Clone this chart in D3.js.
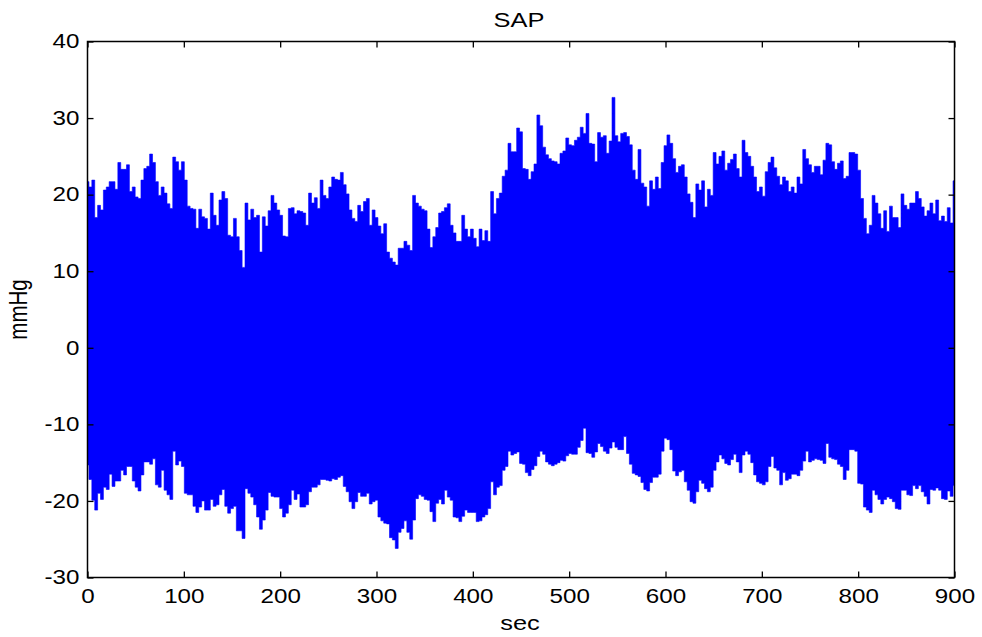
<!DOCTYPE html>
<html>
<head>
<meta charset="utf-8">
<script src="https://cdn.jsdelivr.net/npm/d3@7"></script>
<style>
  html, body { margin: 0; padding: 0; background: #fff; }
  svg { display: block; }
  text { font-family: "Liberation Sans", Arial, sans-serif; fill: #000; }
</style>
</head>
<body>
<svg id="chart" width="982" height="637"></svg>
<script>
// Systolic arterial pressure (mean removed), beat envelope sampled every 3 s
const SAMPLE_STEP = 3;          // seconds between envelope samples
const sapUpper = [
  21.7, 21.0, 21.9, 17.0, 18.6, 18.0, 20.6, 21.0, 21.7, 21.7,
  20.7, 24.2, 23.3, 23.3, 23.9, 20.4, 21.0, 19.7, 19.5, 21.9,
  23.4, 23.7, 25.3, 24.2, 21.7, 19.9, 21.0, 20.2, 18.8, 18.2,
  24.9, 24.3, 23.2, 24.3, 21.9, 18.5, 18.2, 18.1, 15.6, 18.1,
  17.1, 16.9, 15.5, 20.2, 17.3, 16.0, 19.3, 20.4, 19.5, 14.7,
  14.5, 16.9, 14.5, 12.7, 10.5, 18.9, 16.7, 18.1, 17.0, 17.3,
  12.5, 17.1, 15.9, 17.9, 19.9, 18.9, 18.0, 17.3, 14.6, 14.5,
  18.2, 18.3, 17.5, 17.9, 17.8,
  17.6, 16.0, 20.2, 18.9, 19.6,
  18.2, 21.9, 19.9, 19.5, 21.0, 22.3, 22.0, 21.9, 22.9, 21.3,
  20.1, 18.0, 16.9, 16.5, 18.6, 17.8, 19.1, 19.5, 16.0, 18.0,
  17.0, 15.9, 14.9, 16.2, 12.5, 11.7, 11.2, 10.8, 13.0, 13.0,
  13.9, 13.4, 12.7, 19.9, 18.9, 18.5, 18.1, 17.9, 15.5, 13.1,
  14.5, 15.7, 17.6, 17.8, 18.3, 18.8, 16.0, 15.0, 13.9, 13.9,
  17.3, 15.5, 14.5, 15.5, 14.3, 13.2, 15.5, 14.0, 15.3, 13.9,
  20.4, 17.5, 19.5, 20.2, 22.4, 23.2, 26.7, 25.6, 25.6, 28.7,
  28.2, 23.4, 23.3, 22.0, 23.0, 24.0, 30.4, 29.0, 26.2, 25.2,
  24.7, 24.4, 24.3, 24.0, 25.4, 25.7, 27.4, 26.5, 26.4, 27.1,
  27.5, 28.8, 28.0, 30.6, 26.7, 26.6, 24.3, 28.1, 27.5, 27.7,
  25.4, 27.0, 32.7, 27.7, 26.9, 28.0, 28.1, 27.6, 26.5, 23.2,
  22.0, 25.9, 21.5, 21.0, 18.5, 21.8, 20.7, 22.3, 20.8, 24.2,
  26.4, 27.8, 26.7, 24.7, 22.9, 23.7, 23.9, 22.3, 20.1, 19.0,
  17.0, 21.4, 20.6, 21.8, 18.4, 20.7, 19.9, 25.5, 24.0, 25.0,
  25.7, 23.2, 24.1, 24.6, 25.3,
  23.4, 22.3, 27.1, 25.5, 25.0,
  23.7, 22.3, 20.4, 21.0, 19.8, 23.0, 24.2, 24.9, 23.5, 22.4,
  21.3, 22.3, 21.8, 20.4, 21.0, 20.2, 22.3, 21.4, 25.9, 24.7,
  23.9, 22.9, 23.7, 23.7, 22.6, 24.5, 26.7, 26.5, 24.3, 23.3,
  24.1, 24.4, 22.1, 22.4, 25.5, 25.5, 25.3, 23.2, 19.5, 16.9,
  14.9, 16.0, 19.9, 18.9, 17.5, 15.6, 17.9, 15.2, 18.5, 17.0,
  17.0, 15.7, 20.1, 18.6, 18.1, 18.9, 18.9, 20.4, 19.5, 18.4,
  17.2, 17.9, 18.9, 17.5, 19.3, 16.6, 17.2, 16.5, 18.3, 16.3,
  21.8
];
const sapLower = [
  -15.3, -17.2, -19.9, -21.2, -19.0, -19.8, -18.2, -18.5, -16.5, -18.1,
  -17.4, -17.4, -16.0, -16.6, -15.5, -15.5, -17.4, -18.2, -18.7, -16.6,
  -14.9, -14.9, -15.2, -14.5, -17.9, -18.2, -16.0, -18.6, -19.2, -19.8,
  -13.5, -15.3, -14.8, -15.5, -19.0, -19.2, -19.2, -20.7, -21.5, -20.8,
  -20.0, -21.2, -21.2, -19.8, -20.7, -20.5, -19.2, -18.5, -20.7, -21.6,
  -21.0, -20.7, -23.9, -23.9, -24.9, -18.4, -19.0, -19.5, -20.5, -22.1,
  -23.7, -22.5, -21.2, -18.9, -19.4, -19.5, -19.5, -21.0, -22.1, -21.6,
  -20.5, -18.6, -19.8, -19.1, -20.8,
  -20.8, -20.5, -18.8, -18.2, -18.2,
  -17.9, -17.2, -17.2, -17.3, -17.4, -17.1, -17.2, -16.9, -16.7, -18.1,
  -18.8, -20.1, -21.0, -20.1, -18.9, -19.4, -19.4, -19.0, -20.4, -20.1,
  -19.9, -22.1, -22.6, -22.9, -23.0, -24.8, -25.1, -26.2, -24.1, -23.6,
  -22.6, -24.1, -25.0, -22.5, -19.7, -19.2, -19.4, -19.8, -19.9, -21.4,
  -22.7, -20.3, -19.8, -20.4, -18.6, -19.5, -19.9, -22.1, -22.2, -22.7,
  -22.0, -21.2, -21.5, -21.5, -21.5, -22.7, -22.6, -22.1, -21.8, -21.0,
  -17.5, -19.2, -18.2, -18.0, -16.0, -15.5, -13.5, -14.0, -13.8, -13.6,
  -15.1, -15.2, -16.3, -16.7, -15.9, -15.4, -14.2, -13.5, -13.9, -14.9,
  -15.2, -15.4, -15.2, -15.0, -14.7, -14.8, -14.1, -13.8, -13.9, -13.9,
  -13.0, -12.1, -10.5, -13.7, -13.8, -14.3, -13.6, -12.5, -12.9, -13.5,
  -13.8, -13.1, -12.3, -13.0, -13.3, -13.3, -11.6, -13.8, -15.2, -16.4,
  -16.6, -16.8, -17.6, -18.5, -18.7, -17.6, -16.9, -16.9, -16.5, -13.5,
  -11.8, -12.0, -13.3, -16.1, -16.7, -16.2, -16.0, -17.5, -18.6, -20.1,
  -20.3, -18.8, -17.3, -17.7, -18.4, -18.8, -18.2, -16.0, -14.9, -14.0,
  -14.5, -15.1, -15.3, -14.6, -13.9,
  -14.9, -16.3, -14.0, -13.5, -13.9,
  -15.0, -16.6, -17.5, -17.7, -17.9, -17.5, -15.5, -14.2, -15.7, -16.0,
  -17.9, -16.3, -17.3, -17.1, -16.5, -16.5, -16.7, -16.0, -14.8, -13.5,
  -14.9, -14.7, -14.5, -14.6, -14.7, -15.1, -12.5, -14.3, -14.5, -14.6,
  -15.2, -15.5, -17.2, -16.0, -13.3, -13.3, -13.5, -17.7, -17.8, -20.8,
  -21.2, -21.5, -18.6, -19.2, -19.8, -20.4, -19.8, -19.5, -19.7, -20.1,
  -21.0, -21.1, -18.6, -18.6, -19.2, -19.3, -18.0, -18.4, -18.0, -18.8,
  -19.4, -20.4, -18.5, -18.6, -18.3, -18.6, -19.7, -19.8, -18.7, -19.4,
  -18.0
];
const xTicks = [0, 100, 200, 300, 400, 500, 600, 700, 800, 900];
const yTicks = [-30, -20, -10, 0, 10, 20, 30, 40];
const titleText = "SAP";
const xLabel = "sec";
const yLabel = "mmHg";

const plot = { left: 87.5, right: 954.5, top: 41.5, bottom: 577.5 };
const stretch = 1.24;           // horizontal stretch of all lettering
const fontSize = 19.5;
const plainNumber = d => String(d);   // ASCII hyphen for negatives

const svg = d3.select("#chart");

const x = d3.scaleLinear().domain([0, 900]).range([plot.left, plot.right]);
const y = d3.scaleLinear().domain([-30, 40]).range([plot.bottom, plot.top]);

const samples = sapUpper.map((u, i) => ({ t: i * SAMPLE_STEP, hi: u, lo: sapLower[i] }));

svg.append("defs").append("clipPath").attr("id", "plotClip")
  .append("rect")
  .attr("x", plot.left).attr("y", plot.top)
  .attr("width", plot.right - plot.left).attr("height", plot.bottom - plot.top);

// signal band
const band = d3.area()
  .x(d => x(d.t))
  .y0(d => y(d.lo))
  .y1(d => y(d.hi))
  .curve(d3.curveStep);

svg.append("path")
  .datum(samples)
  .attr("clip-path", "url(#plotClip)")
  .attr("d", band)
  .attr("fill", "#0000ff")
  .attr("stroke", "#0000ff")
  .attr("stroke-width", 0.6);

// axes with inward ticks on all four sides
function styleAxis(g, withLabels) {
  g.select(".domain").remove();
  g.selectAll(".tick line").attr("stroke", "#000").attr("stroke-width", 1.3);
  if (!withLabels) g.selectAll(".tick text").remove();
  else g.selectAll(".tick text")
        .attr("font-size", fontSize)
        .attr("fill", "#000")
        .style("font-family", "'Liberation Sans', Arial, sans-serif")
        .attr("transform", `scale(${stretch},1)`);
}

svg.append("g")
  .attr("transform", `translate(0,${plot.bottom})`)
  .call(d3.axisBottom(x).tickValues(xTicks).tickSize(-6).tickPadding(11.5).tickFormat(plainNumber))
  .call(g => styleAxis(g, true));

svg.append("g")
  .attr("transform", `translate(0,${plot.top})`)
  .call(d3.axisTop(x).tickValues(xTicks).tickSize(-6))
  .call(g => styleAxis(g, false));

svg.append("g")
  .attr("transform", `translate(${plot.left},0)`)
  .call(d3.axisLeft(y).tickValues(yTicks).tickSize(-6).tickPadding(6.6).tickFormat(plainNumber))
  .call(g => styleAxis(g, true));

svg.append("g")
  .attr("transform", `translate(${plot.right},0)`)
  .call(d3.axisRight(y).tickValues(yTicks).tickSize(-6))
  .call(g => styleAxis(g, false));

svg.append("rect")
  .attr("x", plot.left).attr("y", plot.top)
  .attr("width", plot.right - plot.left).attr("height", plot.bottom - plot.top)
  .attr("fill", "none").attr("stroke", "#000").attr("stroke-width", 1.5);

// title and axis labels
svg.append("text")
  .attr("transform", `translate(${(plot.left + plot.right) / 2 - 2},27.3) scale(${stretch},1)`)
  .attr("text-anchor", "middle")
  .attr("font-size", fontSize + 1)
  .text(titleText);

svg.append("text")
  .attr("transform", `translate(${(plot.left + plot.right) / 2 - 1},630) scale(${stretch},1)`)
  .attr("text-anchor", "middle")
  .attr("font-size", fontSize + 1)
  .text(xLabel);

svg.append("text")
  .attr("transform", `translate(27,${(plot.top + plot.bottom) / 2}) scale(${stretch},1) rotate(-90)`)
  .attr("text-anchor", "middle")
  .attr("font-size", fontSize + 1)
  .text(yLabel);
</script>
</body>
</html>
